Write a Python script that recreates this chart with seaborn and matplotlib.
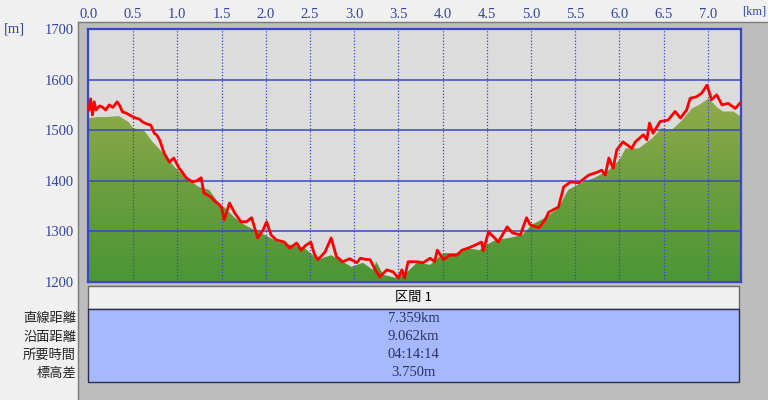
import numpy as np
import matplotlib
matplotlib.use("Agg")
import matplotlib.pyplot as plt
from matplotlib.patches import Rectangle, Polygon
from matplotlib.colors import LinearSegmentedColormap
from matplotlib.lines import Line2D
import seaborn as sns

# ground profile (km, m)
ground_km = [0.00, 0.10, 0.20, 0.34, 0.45, 0.50, 0.62, 0.72, 0.84, 0.98, 1.10, 1.24, 1.36,
             1.47, 1.53, 1.65, 1.76, 1.87, 1.99, 2.14, 2.29, 2.44, 2.59, 2.74, 2.89, 2.97,
             3.10, 3.21, 3.25, 3.33, 3.48, 3.59, 3.71, 3.86, 4.01, 4.16, 4.27, 4.42, 4.46,
             4.60, 4.75, 4.90, 5.01, 5.16, 5.31, 5.42, 5.57, 5.72, 5.88, 6.00, 6.07, 6.22,
             6.37, 6.48, 6.59, 6.71, 6.82, 6.90, 7.01, 7.10, 7.17, 7.29, 7.37]
ground_m = [1524, 1526, 1526, 1528, 1516, 1504, 1500, 1477, 1455, 1425, 1406, 1388, 1382,
            1356, 1348, 1327, 1313, 1303, 1293, 1279, 1273, 1267, 1244, 1253, 1238, 1230,
            1238, 1224, 1240, 1214, 1208, 1218, 1238, 1234, 1257, 1257, 1267, 1263, 1270,
            1283, 1287, 1293, 1313, 1327, 1346, 1382, 1396, 1406, 1421, 1441, 1464, 1464,
            1484, 1504, 1500, 1520, 1543, 1550, 1563, 1546, 1537, 1537, 1527]

# GPS track elevation (km, m)
track_km = [0.00, 0.02, 0.04, 0.06, 0.08, 0.12, 0.15, 0.19, 0.23, 0.27, 0.32, 0.35, 0.38,
            0.42, 0.46, 0.50, 0.53, 0.57, 0.61, 0.66, 0.70, 0.74, 0.77, 0.80, 0.85, 0.91,
            0.96, 1.02, 1.06, 1.10, 1.17, 1.22, 1.27, 1.30, 1.38, 1.42, 1.46, 1.50, 1.53,
            1.59, 1.65, 1.72, 1.78, 1.84, 1.91, 1.97, 2.01, 2.06, 2.12, 2.21, 2.27, 2.35,
            2.40, 2.45, 2.51, 2.55, 2.59, 2.67, 2.74, 2.80, 2.87, 2.95, 3.03, 3.07, 3.12,
            3.18, 3.24, 3.29, 3.37, 3.44, 3.50, 3.54, 3.57, 3.61, 3.71, 3.78, 3.86, 3.91,
            3.94, 4.01, 4.08, 4.16, 4.22, 4.29, 4.37, 4.44, 4.46, 4.52, 4.60, 4.63, 4.73,
            4.79, 4.88, 4.92, 4.95, 4.99, 5.09, 5.16, 5.20, 5.31, 5.37, 5.45, 5.54, 5.65,
            5.75, 5.80, 5.84, 5.88, 5.93, 5.97, 6.04, 6.14, 6.18, 6.27, 6.31, 6.34, 6.38,
            6.46, 6.55, 6.63, 6.69, 6.76, 6.80, 6.87, 6.93, 6.99, 7.02, 7.04, 7.10, 7.16,
            7.23, 7.31, 7.36]
track_m = [1540, 1562, 1530, 1556, 1540, 1548, 1546, 1540, 1550, 1545, 1556, 1548, 1536,
           1534, 1530, 1526, 1524, 1522, 1516, 1512, 1510, 1494, 1490, 1481, 1455, 1437,
           1445, 1425, 1416, 1406, 1398, 1400, 1406, 1376, 1368, 1360, 1355, 1348, 1323,
           1356, 1336, 1319, 1319, 1327, 1287, 1303, 1319, 1293, 1283, 1279, 1267, 1277,
           1263, 1272, 1279, 1255, 1244, 1259, 1287, 1250, 1240, 1246, 1238, 1247, 1245,
           1244, 1224, 1210, 1224, 1220, 1208, 1224, 1208, 1240, 1240, 1238, 1247, 1240,
           1263, 1244, 1253, 1253, 1263, 1267, 1273, 1279, 1262, 1299, 1285, 1279, 1309,
           1297, 1293, 1313, 1327, 1313, 1307, 1323, 1338, 1348, 1388, 1398, 1396, 1411,
           1417, 1421, 1411, 1445, 1425, 1461, 1477, 1464, 1477, 1491, 1481, 1514, 1494,
           1517, 1520, 1537, 1524, 1540, 1563, 1566, 1573, 1589, 1573, 1560, 1570, 1550,
           1553, 1543, 1553]

x_ticks = [0.0, 0.5, 1.0, 1.5, 2.0, 2.5, 3.0, 3.5, 4.0, 4.5, 5.0, 5.5, 6.0, 6.5, 7.0]
y_ticks = [1200, 1300, 1400, 1500, 1600, 1700]

row_labels = ["直線距離", "沿面距離", "所要時間", "標高差"]
row_values = ["7.359km", "9.062km", "04:14:14", "3.750m"]
header = "区間 1"

W, H = 768, 400
def fx(x):
    return x / W
def fy(y):
    return 1 - y / H

plt.rcParams['font.family'] = ['Liberation Serif', 'Noto Sans CJK JP']
jp = ['Noto Sans CJK JP', 'DejaVu Sans']
tick_col = '#34449a'
blue = '#3a46c4'
fs = 10.5

fig = plt.figure(figsize=(7.68, 4.0), dpi=100, facecolor='#f0f0f0')

# gray frame behind the plot
fig.add_artist(Rectangle((fx(78), 0), 1 - fx(78), fy(22), transform=fig.transFigure,
                         facecolor='#bdbdbd', edgecolor='none', zorder=-2))
fig.add_artist(Line2D([fx(78), fx(78)], [0, fy(22)], transform=fig.transFigure,
                      color='#7a7a7a', lw=1, zorder=-1))
fig.add_artist(Line2D([fx(78), 1], [fy(22), fy(22)], transform=fig.transFigure,
                      color='#7a7a7a', lw=1, zorder=-1))

ax = fig.add_axes([fx(88), fy(282), (741 - 88) / W, (282 - 29) / H])
ax.set_facecolor('#dcdcdc')
xmin, xmax = -0.01, 7.375
ax.set_xlim(xmin, xmax)
ax.set_ylim(1200, 1700)

# green ground with gradient
verts = [(xmin, ground_m[0])] + list(zip(ground_km, ground_m)) + \
        [(xmax, ground_m[-1]), (xmax, 1190), (xmin, 1190)]
poly = Polygon(verts, closed=True, facecolor='none', edgecolor='none')
ax.add_patch(poly)
cmap = LinearSegmentedColormap.from_list('grn', ['#4a9636', '#6c9e3e', '#93ac4c'])
grad = np.linspace(0, 1, 256).reshape(-1, 1)
im = ax.imshow(grad, extent=[xmin, xmax, 1200, 1570], origin='lower', cmap=cmap,
               aspect='auto', zorder=1)
im.set_clip_path(poly)

# grid
for yv in y_ticks[1:-1]:
    ax.axhline(yv, color=blue, lw=1.1, zorder=2)
for xv in x_ticks[1:]:
    ax.axvline(xv, color=blue, lw=0.9, ls=(0, (1, 1.5)), zorder=2)

sns.lineplot(x=track_km, y=track_m, ax=ax, color='#ff0000', lw=2.0, zorder=3)

for s in ax.spines.values():
    s.set_color(blue)
    s.set_linewidth(1.6)

ax.xaxis.tick_top()
ax.set_xticks(x_ticks)
ax.set_xticklabels([f"{v:.1f}" for v in x_ticks])
ax.set_yticks(y_ticks)
ax.set_yticklabels([str(v) for v in y_ticks])
ax.tick_params(axis='x', length=0, pad=6, labelsize=fs, labelcolor=tick_col)
ax.tick_params(axis='y', length=0, pad=10, labelsize=fs, labelcolor=tick_col)
ax.set_xlabel("")
ax.set_ylabel("")

fig.text(fx(4), fy(29), "[m]", fontsize=fs, color=tick_col, ha='left', va='center')
fig.text(fx(742), fy(12), "[km]", fontsize=9, color=tick_col, ha='left', va='center')

# table
tx0, tx1 = 88, 739
fig.add_artist(Rectangle((fx(tx0), fy(309)), fx(tx1) - fx(tx0), fy(286) - fy(309),
                         transform=fig.transFigure, facecolor='#f0f0f0', edgecolor='#6a6a6a', lw=1))
fig.add_artist(Rectangle((fx(tx0), fy(382)), fx(tx1) - fx(tx0), fy(309) - fy(382),
                         transform=fig.transFigure, facecolor='#a6b8fe', edgecolor='#2c2c50', lw=1))
cx = (tx0 + tx1) / 2
fig.text(fx(cx), fy(298), header, family=jp, fontsize=9.5, color='black', ha='center', va='center')
row_y = [318, 337, 355, 373]
for lab, val, yy in zip(row_labels, row_values, row_y):
    fig.text(fx(76), fy(yy), lab, family=jp, fontsize=9.5, color='#222222', ha='right', va='center')
    fig.text(fx(cx), fy(yy), val, fontsize=fs, color='#2a3460', ha='center', va='center')

fig.savefig("out.png", dpi=100, facecolor=fig.get_facecolor())
